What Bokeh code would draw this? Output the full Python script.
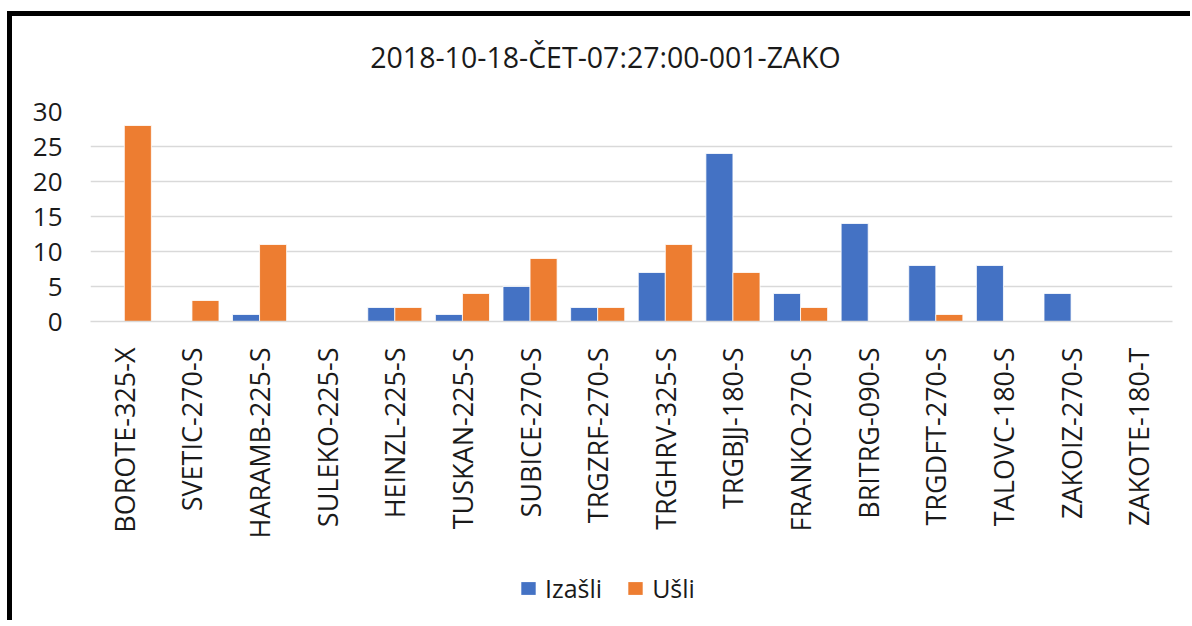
import math
from bokeh.plotting import figure
from bokeh.layouts import column
from bokeh.models import FactorRange, Range1d, Legend, LegendItem, ColumnDataSource, Label
from bokeh.transform import dodge
from bokeh.embed import file_html
from bokeh.resources import INLINE

title_text = "2018-10-18-ČET-07:27:00-001-ZAKO"
categories = ["BOROTE-325-X", "SVETIC-270-S", "HARAMB-225-S", "SULEKO-225-S",
              "HEINZL-225-S", "TUSKAN-225-S", "SUBICE-270-S", "TRGZRF-270-S",
              "TRGHRV-325-S", "TRGBJJ-180-S", "FRANKO-270-S", "BRITRG-090-S",
              "TRGDFT-270-S", "TALOVC-180-S", "ZAKOIZ-270-S", "ZAKOTE-180-T"]
izasli = [0, 0, 1, 0, 2, 1, 5, 2, 7, 24, 4, 14, 8, 8, 4, 0]
usli = [28, 3, 11, 0, 2, 4, 9, 2, 11, 7, 2, 0, 1, 0, 0, 0]
y_ticks = [0, 5, 10, 15, 20, 25, 30]
series_names = ["Izašli", "Ušli"]
colors = ["#4472C4", "#ED7D31"]

FONT = "Open Sans"
TXT = "#1a1a1a"
W = 1178


def strip(height):
    f = figure(x_range=Range1d(0, 1), y_range=Range1d(0, 1), width=W, height=height,
               output_backend="svg", toolbar_location=None,
               x_axis_location=None, y_axis_location=None,
               min_border_left=0, min_border_right=0, min_border_top=0, min_border_bottom=0)
    f.outline_line_color = None
    f.xgrid.grid_line_color = None
    f.ygrid.grid_line_color = None
    f.background_fill_color = "white"
    f.border_fill_color = "white"
    return f


# title strip (frame aligned with the chart's frame)
p0 = strip(70)
p0.add_layout(Label(x=515, y=30, x_units="screen", y_units="screen", text=title_text,
                    text_font=FONT, text_font_size="28.5px", text_color=TXT,
                    text_align="center", text_baseline="middle"))

src = ColumnDataSource(dict(cat=categories, izasli=izasli, usli=usli))

p = figure(x_range=FactorRange(*categories), y_range=Range1d(0, 30),
           width=W, height=474, output_backend="svg", toolbar_location=None,
           min_border_left=78, min_border_right=18,
           min_border_top=25, min_border_bottom=239)
p.outline_line_color = None
p.background_fill_color = "white"
p.border_fill_color = "white"

p.vbar(x=dodge("cat", -0.2, range=p.x_range), top="izasli", width=0.4, source=src,
       fill_color=colors[0], line_color="white", line_width=0.8)
p.vbar(x=dodge("cat", 0.2, range=p.x_range), top="usli", width=0.4, source=src,
       fill_color=colors[1], line_color="white", line_width=0.8)

p.xgrid.grid_line_color = None
p.ygrid.grid_line_color = "#d9d9d9"
p.ygrid.grid_line_width = 1.5
p.yaxis.ticker = y_ticks
p.yaxis.axis_line_color = None
p.yaxis.major_tick_line_color = None
p.yaxis.minor_tick_line_color = None
p.yaxis.major_label_text_font = FONT
p.yaxis.major_label_text_font_size = "26px"
p.yaxis.major_label_text_color = TXT
p.yaxis.major_label_standoff = 22

p.xaxis.axis_line_color = "#d9d9d9"
p.xaxis.axis_line_width = 1.5
p.xaxis.major_tick_line_color = None
p.xaxis.minor_tick_line_color = None
p.xaxis.major_label_orientation = math.pi / 2
p.xaxis.major_label_text_font = FONT
p.xaxis.major_label_text_font_size = "27px"
p.xaxis.major_label_text_color = TXT
p.xaxis.major_label_standoff = 20

# legend strip below the chart (its frame is aligned with the chart's frame)
p2 = strip(60)
key_src = ColumnDataSource(dict(x=[0], top=[0]))
d1 = p2.vbar(x="x", top="top", width=0, source=key_src, fill_color=colors[0], line_color=None)
d2 = p2.vbar(x="x", top="top", width=0, source=key_src, fill_color=colors[1], line_color=None)

legend = Legend(items=[LegendItem(label=series_names[0], renderers=[d1]),
                       LegendItem(label=series_names[1], renderers=[d2])],
                orientation="horizontal", location=(429, 15),
                border_line_color=None, background_fill_alpha=0,
                label_text_font=FONT, label_text_font_size="25px",
                label_text_color=TXT, glyph_width=18, glyph_height=16,
                label_standoff=8, spacing=24, padding=0, margin=0)
p2.add_layout(legend, "center")

layout = column(p0, p, p2, spacing=0,
                styles={"border-left": "5px solid black", "border-top": "5px solid black",
                        "margin-left": "7px", "margin-top": "11px"})

open("out.html", "w").write(file_html(layout, INLINE))
